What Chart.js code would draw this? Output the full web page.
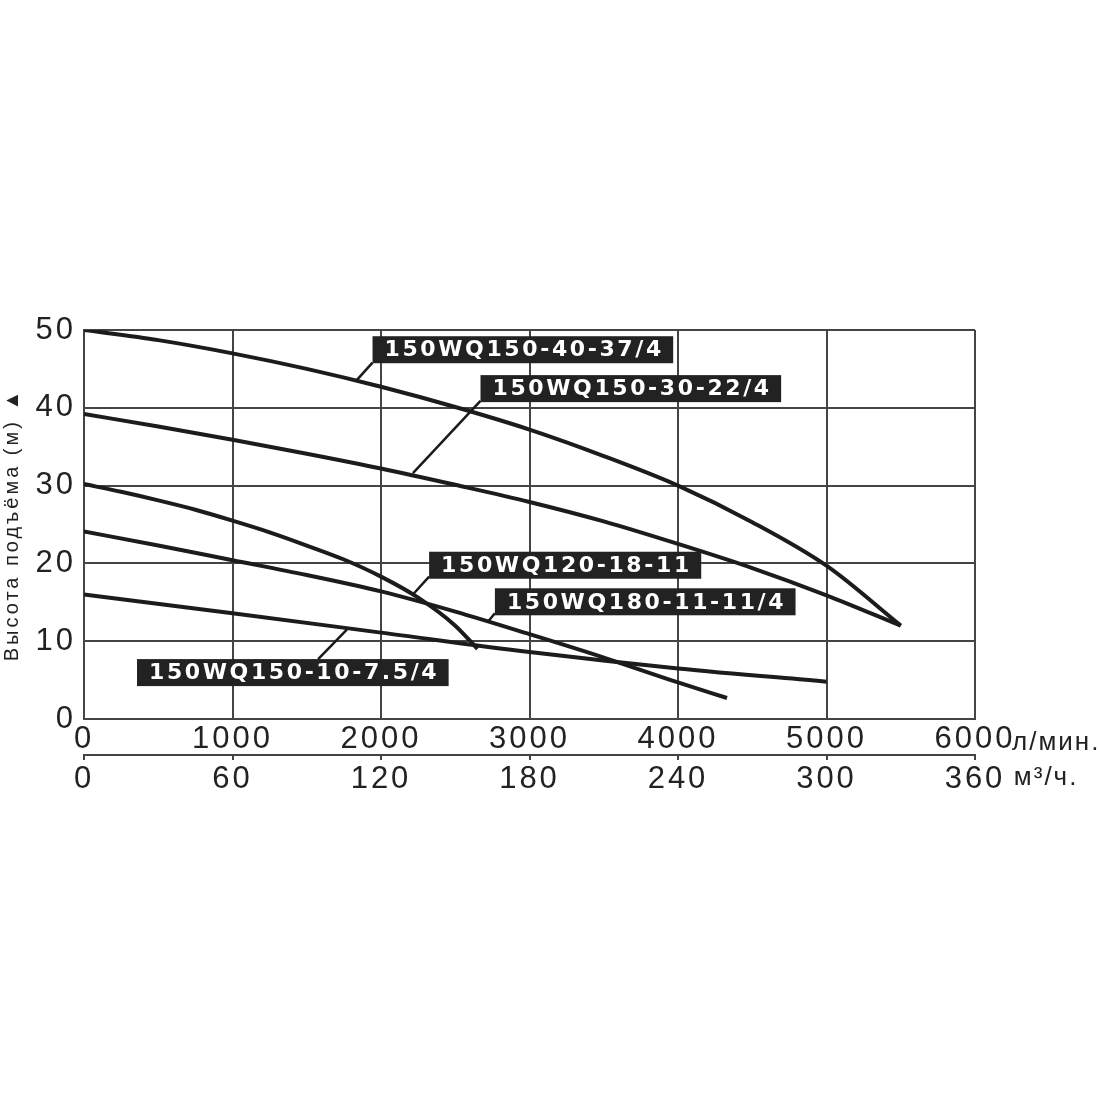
<!DOCTYPE html>
<html>
<head>
<meta charset="utf-8">
<script src="https://cdn.jsdelivr.net/npm/chart.js@4.4.0/dist/chart.umd.min.js"></script>
<style>
  html, body { margin: 0; padding: 0; background: #fff; }
</style>
</head>
<body>
<canvas id="pumpChart" width="1100" height="1100"></canvas>
<script>
// Q-H curves, flow in l/min, head in m
const flow1 = [0, 500, 1000, 1500, 2000, 2500, 3000, 3500, 4000, 4500, 5000, 5500];
const head1 = [50, 48.7, 47.0, 45.0, 42.7, 40.1, 37.2, 33.8, 30.0, 25.3, 19.7, 12.0];

const flow2 = [0, 500, 1000, 1500, 2000, 2500, 3000, 3500, 4000, 4500, 5000, 5500];
const head2 = [39.2, 37.6, 35.9, 34.1, 32.2, 30.1, 27.9, 25.4, 22.5, 19.4, 15.9, 12.0];

const flow3 = [0, 250, 500, 750, 1000, 1250, 1500, 1750, 2000, 2250, 2500, 2650];
const head3 = [30.2, 29.2, 28.1, 26.9, 25.5, 24.0, 22.3, 20.5, 18.3, 15.6, 12.0, 9.0];

const flow4 = [0, 500, 1000, 1500, 2000, 2500, 3000, 3500, 4000, 4330];
const head4 = [24.1, 22.3, 20.4, 18.5, 16.4, 13.8, 10.9, 7.9, 4.7, 2.7];

const flow5 = [0, 1000, 2000, 3000, 4000, 5000];
const head5 = [16.0, 13.6, 11.1, 8.6, 6.5, 4.8];

const pumpNames = ['150WQ150-40-37/4', '150WQ150-30-22/4', '150WQ120-18-11', '150WQ180-11-11/4', '150WQ150-10-7.5/4'];

// axis ticks
const flowTicks = [0, 1000, 2000, 3000, 4000, 5000, 6000];
const m3Ticks = [0, 60, 120, 180, 240, 300, 360];
const headTicks = [0, 10, 20, 30, 40, 50];

// label boxes (top-left corner) and leader lines, in data units
const boxFlow = [1943, 2670, 2324, 2767, 357];
const boxHead = [49.2, 44.2, 21.5, 16.8, 7.7];
const leadFromFlow = [1943, 2670, 2324, 2767, 1577];
const leadFromHead = [45.8, 40.9, 18.3, 13.6, 7.7];
const leadToFlow = [1838, 2215, 2215, 2720, 1770];
const leadToHead = [43.6, 31.6, 16.0, 12.5, 11.5];

function toPoints(xs, ys) {
  return xs.map((v, i) => ({ x: v, y: ys[i] }));
}

const curves = [[flow1, head1], [flow2, head2], [flow3, head3], [flow4, head4], [flow5, head5]];

const tickFont = { family: 'Liberation Sans', size: 31 };
const gridCol = '#444';
const SPACING = '3px';

// wide-looking axis digits like the scan
const spacingPlugin = {
  id: 'spacing',
  beforeLayout(chart) { chart.ctx.letterSpacing = SPACING; },
  beforeDraw(chart) { chart.ctx.letterSpacing = SPACING; }
};

// black tags with leader lines + axis units
const tagPlugin = {
  id: 'tags',
  afterDatasetsDraw(chart) {
    const { ctx, scales } = chart;
    const x = scales.x, y = scales.y;
    ctx.save();
    ctx.font = 'bold 22px "DejaVu Sans"';
    ctx.letterSpacing = '2.6px';
    ctx.textBaseline = 'middle';
    pumpNames.forEach((name, i) => {
      const bx = x.getPixelForValue(boxFlow[i]);
      const by = y.getPixelForValue(boxHead[i]);
      const tw = ctx.measureText(name).width - 2.6;
      const bw = tw + 24, bh = 27;

      ctx.strokeStyle = '#1a1a1a';
      ctx.lineWidth = 2.5;
      ctx.beginPath();
      ctx.moveTo(x.getPixelForValue(leadFromFlow[i]), y.getPixelForValue(leadFromHead[i]));
      ctx.lineTo(x.getPixelForValue(leadToFlow[i]), y.getPixelForValue(leadToHead[i]));
      ctx.stroke();

      ctx.fillStyle = '#222';
      ctx.fillRect(bx, by, bw, bh);
      ctx.fillStyle = '#fff';
      ctx.fillText(name, bx + 12, by + bh / 2 + 1);
    });
    ctx.restore();
  },
  afterDraw(chart) {
    const { ctx, scales } = chart;
    ctx.save();
    ctx.letterSpacing = SPACING;
    ctx.font = '31px "Liberation Sans"';
    const half1 = (ctx.measureText('6000').width - 3) / 2;
    const half2 = (ctx.measureText('360').width - 3) / 2;
    const right = scales.x.getPixelForValue(6000);
    ctx.font = '26px "Liberation Sans"';
    ctx.letterSpacing = '2px';
    ctx.fillStyle = '#222';
    ctx.textBaseline = 'alphabetic';
    ctx.fillText('л/мин.', right + half1 - 2, 750);
    ctx.fillText('м³/ч.', right + half2 + 10, 785);
    ctx.restore();
  }
};

new Chart(document.getElementById('pumpChart'), {
  type: 'line',
  data: {
    datasets: curves.map((c, i) => ({
      label: pumpNames[i],
      data: toPoints(c[0], c[1]),
      xAxisID: 'x',
      yAxisID: 'y',
      borderColor: '#1c1c1c',
      borderWidth: 4,
      pointRadius: 0,
      fill: false,
      cubicInterpolationMode: 'monotone'
    }))
  },
  options: {
    responsive: false,
    animation: false,
    layout: { padding: { top: 330, left: 0, right: 125, bottom: 305 } },
    plugins: { legend: { display: false }, tooltip: { enabled: false } },
    scales: {
      x: {
        type: 'linear',
        position: 'bottom',
        min: 0, max: 6000,
        afterBuildTicks: s => { s.ticks = flowTicks.map(v => ({ value: v })); },
        afterFit: s => { s.height = 36; },
        grid: { color: gridCol, lineWidth: 2, drawTicks: false },
        border: { color: gridCol, width: 2 },
        ticks: { font: tickFont, color: '#222', padding: 2, maxRotation: 0, callback: v => String(v) }
      },
      x2: {
        type: 'linear',
        position: 'bottom',
        min: 0, max: 360,
        afterBuildTicks: s => { s.ticks = m3Ticks.map(v => ({ value: v })); },
        afterFit: s => { s.height = 40; },
        grid: { drawOnChartArea: false, color: gridCol, lineWidth: 2, tickLength: 5 },
        border: { color: gridCol, width: 2 },
        ticks: { font: tickFont, color: '#222', padding: 1, maxRotation: 0, callback: v => String(v) }
      },
      y: {
        min: 0, max: 50,
        afterBuildTicks: s => { s.ticks = headTicks.map(v => ({ value: v })); },
        afterFit: s => { s.width = 84; },
        grid: { color: gridCol, lineWidth: 2, drawTicks: false },
        border: { color: gridCol, width: 2 },
        ticks: { font: tickFont, color: '#222', padding: 8, callback: v => String(v) },
        title: {
          display: true,
          text: 'Высота подъёма (м) ▲',
          font: { family: 'Liberation Sans', size: 20 },
          color: '#222',
          padding: { top: 0, bottom: 0 }
        }
      }
    }
  },
  plugins: [spacingPlugin, tagPlugin]
});
</script>
</body>
</html>
